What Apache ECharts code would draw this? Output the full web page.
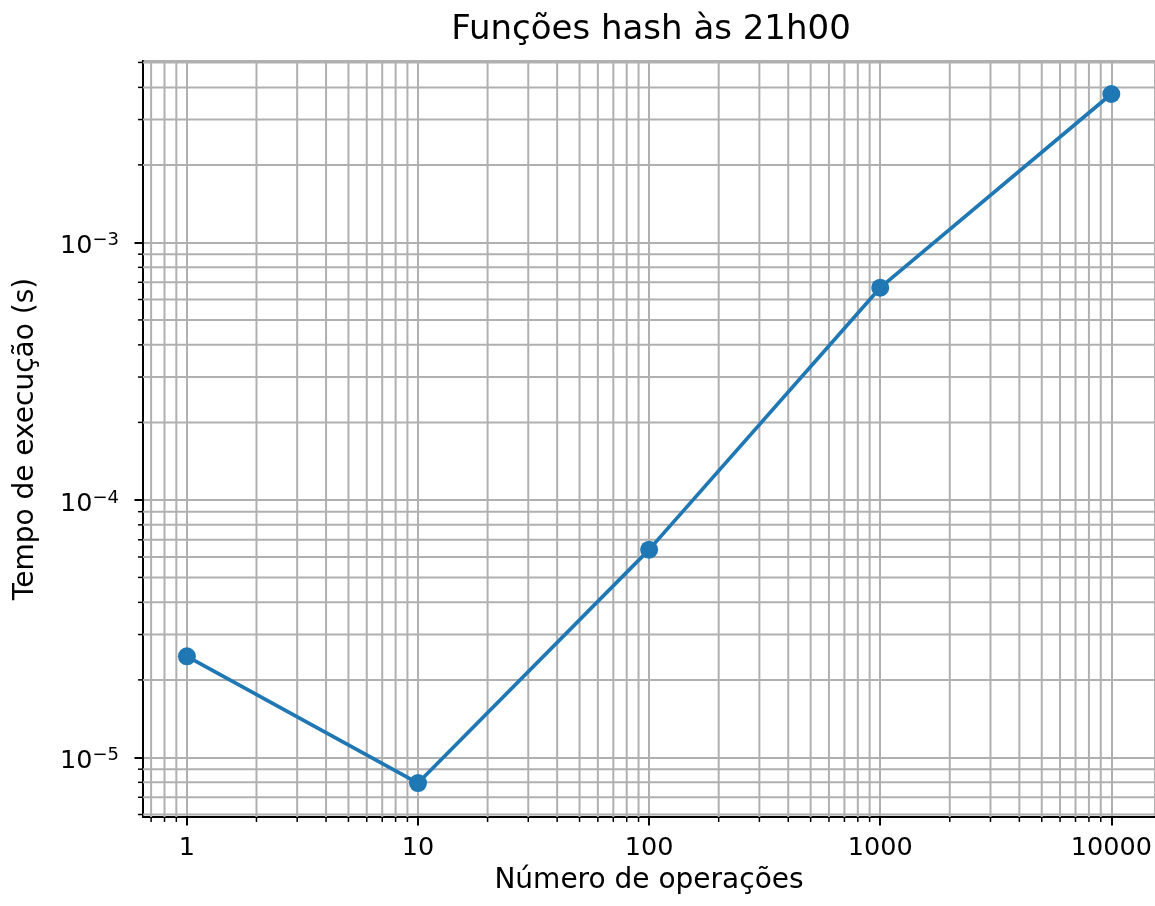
<!DOCTYPE html>
<html>
<head>
<meta charset="utf-8">
<script src="https://cdn.jsdelivr.net/npm/echarts@6/dist/echarts.min.js"></script>
<style>
html,body{margin:0;padding:0;background:#fff;}
#chart{width:1155px;height:906px;}
</style>
</head>
<body>
<div id="chart"></div>
<script>
// ---- data ----
const operations = [1, 10, 100, 1000, 10000];
const execTimes = [2.47e-5, 7.95e-6, 6.41e-5, 6.67e-4, 3.77e-3];
const xTickValues = [1, 10, 100, 1000, 10000];
const yTickExponents = [-5, -4, -3];
const minorMultipliers = [2, 3, 4, 5, 6, 7, 8, 9];
const xDecades = [-1, 0, 1, 2, 3, 4];
const yDecades = [-6, -5, -4, -3];
const titleText = 'Funções hash às 21h00';
const xName = 'Número de operações';
const yName = 'Tempo de execução (s)';

// axis extents (log10 space)
const xLogMin = -0.19, xLogMax = 4.189;
const yLogMin = -5.2315, yLogMax = -2.2955;
const xMin = Math.pow(10, xLogMin), xMax = Math.pow(10, xLogMax);
const yMin = Math.pow(10, yLogMin), yMax = Math.pow(10, yLogMax);

// minor tick values
const minorData = [];
xDecades.forEach(d => minorMultipliers.forEach(m => {
  const v = m * Math.pow(10, d);
  if (v > xMin && v < xMax) minorData.push([v, 1e-4, 0]);
}));
yDecades.forEach(d => minorMultipliers.forEach(m => {
  const v = m * Math.pow(10, d);
  if (v > yMin && v < yMax) minorData.push([1, v, 1]);
}));

const FONT = 'DejaVu Sans';
const GRID_COLOR = '#b0b0b0';

function renderMinor(params, api) {
  const cs = params.coordSys;
  const orient = api.value(2);
  if (orient === 0) {
    const x = api.coord([api.value(0), api.value(1)])[0];
    const yb = cs.y + cs.height;
    return {type: 'group', children: [
      {type: 'line', shape: {x1: x, y1: cs.y, x2: x, y2: yb}, style: {stroke: GRID_COLOR, lineWidth: 2}},
      {type: 'line', shape: {x1: x, y1: yb, x2: x, y2: yb + 5}, style: {stroke: '#000', lineWidth: 1.5}}
    ]};
  } else {
    const y = api.coord([api.value(0), api.value(1)])[1];
    return {type: 'group', children: [
      {type: 'line', shape: {x1: cs.x, y1: y, x2: cs.x + cs.width, y2: y}, style: {stroke: GRID_COLOR, lineWidth: 2}},
      {type: 'line', shape: {x1: cs.x - 5, y1: y, x2: cs.x, y2: y}, style: {stroke: '#000', lineWidth: 1.5}}
    ]};
  }
}

const chart = echarts.init(document.getElementById('chart'), null, {renderer: 'canvas'});
chart.setOption({
  animation: false,
  backgroundColor: '#ffffff',
  textStyle: {fontFamily: FONT},
  title: {
    text: titleText,
    left: 646,
    textAlign: 'center',
    top: 8,
    textStyle: {fontFamily: FONT, fontSize: 34, fontWeight: 'normal', color: '#000'}
  },
  grid: {
    left: 143, right: 0, top: 61, bottom: 89,
    show: true, borderColor: '#000', borderWidth: 2, backgroundColor: 'transparent',
    containLabel: false
  },
  xAxis: {
    type: 'log', logBase: 10, min: xMin, max: xMax,
    name: xName, nameLocation: 'middle', nameGap: 50,
    nameTextStyle: {fontFamily: FONT, fontSize: 28, color: '#000'},
    axisLine: {show: true, onZero: false, lineStyle: {color: '#000', width: 2}},
    axisTick: {show: true, length: 8.5, inside: false, lineStyle: {color: '#000', width: 2}},
    axisLabel: {
      show: true, margin: 18, showMinLabel: false, showMaxLabel: false,
      fontFamily: FONT, fontSize: 25.5, color: '#000',
      formatter: v => {
        const idx = xTickValues.findIndex(t => Math.abs(Math.log10(t) - Math.log10(v)) < 1e-6);
        return idx >= 0 ? String(xTickValues[idx]) : '';
      }
    },
    splitLine: {show: true, lineStyle: {color: GRID_COLOR, width: 2}},
    minorTick: {show: false}, minorSplitLine: {show: false}
  },
  yAxis: {
    type: 'log', logBase: 10, min: yMin, max: yMax,
    name: yName, nameLocation: 'middle', nameGap: 103,
    nameTextStyle: {fontFamily: FONT, fontSize: 28, color: '#000'},
    axisLine: {show: true, onZero: false, lineStyle: {color: '#000', width: 2}},
    axisTick: {show: true, length: 8.5, inside: false, lineStyle: {color: '#000', width: 2}},
    axisLabel: {
      show: true, margin: 24, showMinLabel: false, showMaxLabel: false,
      fontFamily: FONT, color: '#000',
      padding: [8, 0, 0, 0],
      formatter: v => {
        const e = Math.round(Math.log10(v));
        if (yTickExponents.indexOf(e) < 0 || Math.abs(Math.log10(v) - e) > 1e-6) return '';
        return '{b|10}{s|' + (e < 0 ? '\u2212' : '') + Math.abs(e) + '}';
      },
      rich: {
        b: {fontFamily: FONT, fontSize: 25.5, color: '#000', lineHeight: 30},
        s: {fontFamily: FONT, fontSize: 18, color: '#000', lineHeight: 20, verticalAlign: 'top'}
      }
    },
    splitLine: {show: true, lineStyle: {color: GRID_COLOR, width: 2}},
    minorTick: {show: false}, minorSplitLine: {show: false}
  },
  series: [
    {
      type: 'custom',
      name: 'minor',
      silent: true,
      clip: false,
      z: 1,
      encode: {x: 0, y: 1},
      data: minorData,
      renderItem: renderMinor
    },
    {
      type: 'line',
      name: 'hash',
      z: 3,
      data: operations.map((x, i) => [x, execTimes[i]]),
      symbol: 'circle',
      symbolSize: 18,
      showSymbol: true,
      color: '#1f77b4',
      itemStyle: {color: '#1f77b4', borderWidth: 0},
      lineStyle: {color: '#1f77b4', width: 3.7},
      emphasis: {disabled: true}
    }
  ]
});
</script>
</body>
</html>
